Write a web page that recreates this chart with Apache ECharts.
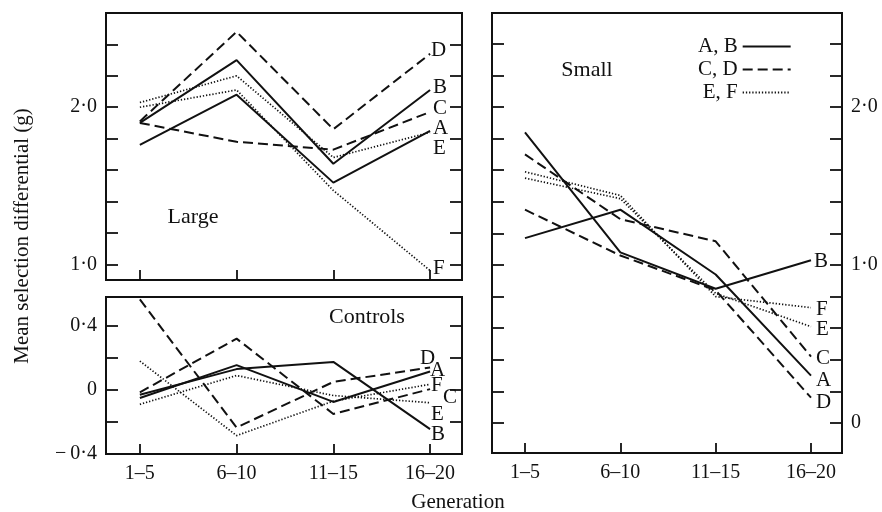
<!DOCTYPE html>
<html>
<head>
<meta charset="utf-8">
<script src="https://cdn.jsdelivr.net/npm/echarts@6/dist/echarts.min.js"></script>
<style>
html,body{margin:0;padding:0;background:#fff;}
#chart{width:882px;height:512px;}
</style>
</head>
<body>
<div id="chart"></div>
<script>
// ---- data ----
const categories = ['1–5', '6–10', '11–15', '16–20'];
const seriesNames = ['A', 'B', 'C', 'D', 'E', 'F'];

// Large lines
const largeA = [1.76, 2.08, 1.52, 1.85];
const largeB = [1.90, 2.30, 1.64, 2.11];
const largeC = [1.90, 1.78, 1.73, 1.97];
const largeD = [1.91, 2.48, 1.86, 2.34];
const largeE = [2.03, 2.20, 1.68, 1.84];
const largeF = [2.00, 2.11, 1.47, 0.96];

// Controls
const ctrlA = [-0.05, 0.155, -0.075, 0.115];
const ctrlB = [-0.03, 0.13, 0.175, -0.245];
const ctrlC = [-0.015, 0.32, -0.15, 0.005];
const ctrlD = [0.565, -0.235, 0.05, 0.14];
const ctrlE = [-0.09, 0.09, -0.035, -0.08];
const ctrlF = [0.18, -0.285, -0.07, 0.035];

// Small lines
const smallA = [1.17, 1.35, 0.94, 0.30];
const smallB = [1.84, 1.08, 0.85, 1.03];
const smallC = [1.70, 1.29, 1.15, 0.42];
const smallD = [1.35, 1.06, 0.84, 0.16];
const smallE = [1.55, 1.42, 0.82, 0.61];
const smallF = [1.59, 1.44, 0.80, 0.73];

// tick values / labels
const largeTicks = [1.0, 1.2, 1.4, 1.6, 1.8, 2.0, 2.2, 2.4];
const largeLabels = [1.0, 2.0];
const ctrlTicks = [-0.2, 0, 0.2, 0.4];
const ctrlLabels = [-0.4, 0, 0.4];
const smallTicks = [0, 0.2, 0.4, 0.6, 0.8, 1.0, 1.2, 1.4, 1.6, 1.8, 2.0, 2.2, 2.4];
const smallLabels = [0, 1.0, 2.0];
const legendNames = ['A, B', 'C, D', 'E, F'];

// ---- styles ----
const INK = '#111';
const FONT = 'Liberation Serif';
const solid = { color: INK, width: 2, type: 'solid' };
const dashed = { color: INK, width: 2, type: [10, 5] };
const dotted = { color: INK, width: 1.7, type: [1.3, 1.9] };
const styleOf = { A: solid, B: solid, C: dashed, D: dashed, E: dotted, F: dotted };

function fmt(v) {
  if (Math.abs(v) < 1e-9) return '0';
  let s = Math.abs(v).toFixed(1).replace('.', '·');
  return (v < 0 ? '−\u2009' : '') + s;
}

function makeSeries(name, values, gridIdx, offset) {
  return {
    type: 'line',
    name: name,
    xAxisIndex: gridIdx,
    yAxisIndex: gridIdx * 2,
    symbol: 'none',
    silent: true,
    lineStyle: styleOf[name],
    itemStyle: { color: INK },
    endLabel: {
      show: true, distance: 0, offset: offset,
      formatter: name, color: INK, fontFamily: FONT, fontSize: 21
    },
    data: values.map((v, i) => [i, v])
  };
}

const largeOff = { A: [3, -2], B: [3, -2], C: [3, -3], D: [1, -3], E: [3, 16], F: [3, -2] };
const ctrlOff = { A: [0, -1], B: [1, 5], C: [13, 8], D: [-10, -9], E: [1, 12], F: [1, 1] };
const smallOff = { A: [5, 5], B: [3, 1], C: [5, 2], D: [5, 5], E: [5, 3], F: [5, 2] };

const largeVals = [largeA, largeB, largeC, largeD, largeE, largeF];
const ctrlVals = [ctrlA, ctrlB, ctrlC, ctrlD, ctrlE, ctrlF];
const smallVals = [smallA, smallB, smallC, smallD, smallE, smallF];

const series = [];
seriesNames.forEach((n, k) => series.push(makeSeries(n, largeVals[k], 0, largeOff[n])));
seriesNames.forEach((n, k) => series.push(makeSeries(n, ctrlVals[k], 1, ctrlOff[n])));
seriesNames.forEach((n, k) => series.push(makeSeries(n, smallVals[k], 2, smallOff[n])));
// legend-only series
[solid, dashed, dotted].forEach((ls, k) => series.push({
  type: 'line', name: legendNames[k], xAxisIndex: 2, yAxisIndex: 4,
  symbol: 'none', symbolSize: 0, lineStyle: ls, itemStyle: { color: INK }, data: []
}));

const tickLine = { color: INK, width: 1.8, type: 'solid' };

function xAxis(gridIdx, min, max, showLabels) {
  return {
    type: 'value', gridIndex: gridIdx, min: min, max: max, position: 'bottom',
    axisLine: { show: false, onZero: false },
    splitLine: { show: false },
    minorTick: { show: false },
    axisTick: { show: true, inside: true, length: 10, customValues: [0, 1, 2, 3], lineStyle: tickLine },
    axisLabel: { show: showLabels, customValues: [0, 1, 2, 3], margin: 10,
      formatter: v => categories[Math.round(v)], color: INK, fontFamily: FONT, fontSize: 20 }
  };
}

function yAxis(gridIdx, pos, min, max, ticks, labels) {
  return {
    type: 'value', gridIndex: gridIdx, position: pos, min: min, max: max,
    axisLine: { show: false, onZero: false },
    splitLine: { show: false },
    minorTick: { show: false },
    axisTick: { show: true, inside: true, length: 12, customValues: ticks, lineStyle: tickLine },
    axisLabel: { show: labels.length > 0, customValues: labels.length ? labels : undefined,
      margin: 9, formatter: fmt, color: INK, fontFamily: FONT, fontSize: 20 }
  };
}

const gridStyle = { show: true, borderColor: INK, borderWidth: 2, backgroundColor: 'transparent', containLabel: false };

const option = {
  backgroundColor: '#fff',
  animation: false,
  grid: [
    Object.assign({ left: 106, top: 13, width: 356, height: 267 }, gridStyle),
    Object.assign({ left: 106, top: 297, width: 356, height: 157 }, gridStyle),
    Object.assign({ left: 492, top: 13, width: 350, height: 440 }, gridStyle)
  ],
  xAxis: [
    xAxis(0, -0.35, 3.33, false),
    xAxis(1, -0.35, 3.33, true),
    xAxis(2, -0.346, 3.325, true)
  ],
  yAxis: [
    yAxis(0, 'left', 0.9, 2.6, largeTicks, largeLabels),
    yAxis(0, 'right', 0.9, 2.6, largeTicks, []),
    yAxis(1, 'left', -0.4, 0.58, ctrlTicks, ctrlLabels),
    yAxis(1, 'right', -0.4, 0.58, ctrlTicks, []),
    yAxis(2, 'left', -0.19, 2.595, smallTicks, []),
    yAxis(2, 'right', -0.19, 2.595, smallTicks, smallLabels)
  ],
  legend: {
    data: legendNames, orient: 'vertical', left: 693, top: 31, align: 'right',
    itemWidth: 48, itemHeight: 14, itemGap: 2, selectedMode: false,
    itemStyle: { opacity: 0, borderWidth: 0 },
    textStyle: { color: INK, fontFamily: FONT, fontSize: 21 }
  },
  graphic: [
    { type: 'text', x: 22, y: 236, rotation: Math.PI / 2,
      style: { text: 'Mean selection differential (g)', fill: INK, font: '21px "Liberation Serif"', align: 'center', verticalAlign: 'middle' } },
    { type: 'text', x: 458, y: 502,
      style: { text: 'Generation', fill: INK, font: '21px "Liberation Serif"', align: 'center', verticalAlign: 'middle' } },
    { type: 'text', x: 193, y: 217,
      style: { text: 'Large', fill: INK, font: '22px "Liberation Serif"', align: 'center', verticalAlign: 'middle' } },
    { type: 'text', x: 367, y: 317,
      style: { text: 'Controls', fill: INK, font: '22px "Liberation Serif"', align: 'center', verticalAlign: 'middle' } },
    { type: 'text', x: 587, y: 70,
      style: { text: 'Small', fill: INK, font: '22px "Liberation Serif"', align: 'center', verticalAlign: 'middle' } }
  ],
  series: series
};

const chart = echarts.init(document.getElementById('chart'), null, { renderer: 'canvas' });
chart.setOption(option);
</script>
</body>
</html>
